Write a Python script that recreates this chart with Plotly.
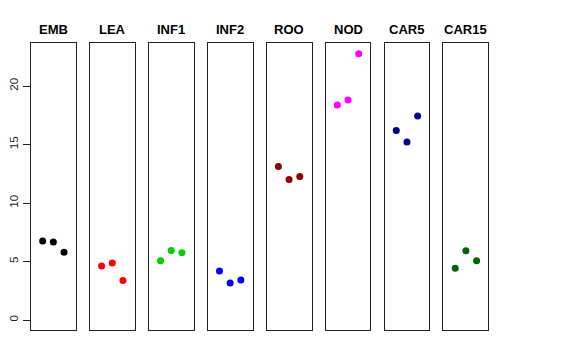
import plotly.graph_objects as go

categories = ["EMB", "LEA", "INF1", "INF2", "ROO", "NOD", "CAR5", "CAR15"]
values = {
    "EMB": [6.75, 6.67, 5.79],
    "LEA": [4.62, 4.87, 3.39],
    "INF1": [5.07, 5.95, 5.75],
    "INF2": [4.19, 3.16, 3.42],
    "ROO": [13.13, 12.02, 12.28],
    "NOD": [18.38, 18.80, 22.76],
    "CAR5": [16.21, 15.21, 17.44],
    "CAR15": [4.42, 5.93, 5.07],
}
replicates = [1, 2, 3]
colors = ["#000000", "#FF0000", "#00CD00", "#0000FF", "#8B0000", "#FF00FF", "#00008B", "#006400"]
y_ticks = [0, 5, 10, 15, 20]

W, H = 576, 360
OFF = 8  # page body margin
left0, period, pw = 29 - OFF, 59.14, 45
top_px, bot_px = 43 - OFF, 330 - OFF

fig = go.Figure()
layout = dict(
    width=W, height=H, margin=dict(l=0, r=0, t=0, b=0),
    plot_bgcolor="white", paper_bgcolor="white", showlegend=False,
    font=dict(family="Liberation Sans, Arial, sans-serif", color="black"),
)
annotations = []
for i, cat in enumerate(categories):
    n = i + 1
    xa = "x" if n == 1 else f"x{n}"
    ya = "y" if n == 1 else f"y{n}"
    fig.add_trace(go.Scatter(
        x=replicates, y=values[cat], mode="markers", xaxis=xa, yaxis=ya,
        marker=dict(color=colors[i], size=7, line=dict(width=0)),
        hoverinfo="skip",
    ))
    l = left0 + i * period
    dom_x = [l / W, (l + pw) / W]
    dom_y = [(H - bot_px) / H, (H - top_px) / H]
    layout["xaxis" if n == 1 else f"xaxis{n}"] = dict(
        domain=dom_x, range=[-0.1, 4.1], showgrid=False, zeroline=False,
        showticklabels=False, ticks="", showline=True, mirror=True,
        linecolor="#222222", linewidth=1, anchor=ya, fixedrange=True,
    )
    yax = dict(
        domain=dom_y, range=[-0.85, 23.68], showgrid=False, zeroline=False,
        showline=True, mirror=True, linecolor="#222222", linewidth=1,
        anchor=xa, fixedrange=True,
    )
    if n == 1:
        yax.update(ticks="outside", ticklen=7, tickcolor="#222222", tickwidth=1,
                   tickvals=y_ticks, ticktext=[str(t) for t in y_ticks],
                   tickangle=-90, tickfont=dict(size=11.5, color="#222222"))
    else:
        yax.update(showticklabels=False, ticks="")
    layout["yaxis" if n == 1 else f"yaxis{n}"] = yax
    annotations.append(dict(
        text=f"<b>{cat}</b>", x=(l + pw / 2) / W, y=(H - (29.5 - OFF)) / H,
        xref="paper", yref="paper", showarrow=False, xanchor="center",
        yanchor="middle", font=dict(size=13, color="black"),
    ))
layout["annotations"] = annotations
fig.update_layout(**layout)
fig.write_html("out.html")
